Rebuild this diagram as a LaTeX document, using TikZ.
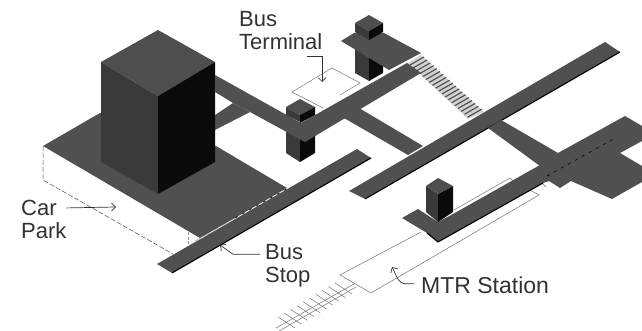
\documentclass[tikz,border=0pt]{standalone}
\usepackage{fontspec}
\setmainfont{Liberation Sans}
\usepackage{tikz}
\usetikzlibrary{arrows.meta, positioning, calc}
\definecolor{atasGedung}{RGB}{78,78,78}
\definecolor{sisiGedung}{RGB}{58,58,58}
\definecolor{lantai}{RGB}{80,80,80}
\definecolor{teksAbu}{RGB}{50,50,50}

\begin{document}
\begin{tikzpicture}[
  x=1pt, y=-1pt,
  lbl/.style={inner sep=0pt, anchor=base west, align=left, text=teksAbu, font=\fontsize{22}{23}\selectfont},
  lantaiA/.style={fill=lantai, draw=none},
  tepi/.style={black, line width=1.1pt},
  garis/.style={draw=black!55, line width=0.5pt},
  putus/.style={draw=black!70, line width=0.5pt, dash pattern=on 5pt off 2pt},
  titik/.style={draw=black, line width=0.6pt, dash pattern=on 3pt off 5pt},
  penunjuk/.style={draw=teksAbu, line width=0.7pt, -{Straight Barb[length=4pt,width=8pt]}},
]
  \useasboundingbox (0,0) rectangle (642,331);

  % batas parkir
  \draw[putus] (43,146) -- (43,180) -- (173,254);
  \draw[draw=black!40, line width=0.8pt, dash pattern=on 3pt off 1.5pt] (188,232) -- (188,245);

  % rel dan stasiun
  \draw[garis] (276,328) -- (354,284);
  \draw[garis] (279,331) -- (356,287);
  \foreach \i in {0,...,9} {
    \draw[garis] ($(278,317)+(6.3*\i,-3.8*\i)$) -- ++(17,11);
  }
  \draw[garis] (421,232) -- (340,275) -- (371,293) -- (539,195) -- (530,190);
  \draw[garis] (454,210) -- (510,178) -- (513,181);
  \draw[garis] (542,183) -- (546,187);

  % terminal bus
  \draw[garis] (323,108) -- (292,92) -- (332,68) -- (360,83) -- (340,95);

  % tangga
  \fill[black!18] (408,63) -- (421,55) -- (484,112) -- (468,119) -- cycle;
  \foreach \i in {0,...,18} {
    \draw[black!70, line width=1.1pt] ($(410,65)+(3.2*\i,2.9*\i)$) -- ++(14,-8);
  }

  % pelat parkir dan jalan
  \fill[lantaiA] (43,146) -- (100,113) -- (216,146) -- (287,188) -- (200,238) -- cycle;
  \fill[lantaiA] (157,264) -- (357,149) -- (371,158) -- (172,273) -- cycle;
  \draw[tepi] (172,273) -- (371,158);
  \draw[titik] (235,218) -- (290,187);
  \draw[draw=black!45, line width=0.4pt, dash pattern=on 6pt off 4pt] (195,241) -- (235,218);

  \fill[lantaiA] (233,103) -- (215,115) -- (215,130) -- (250,112) -- cycle;

  % gedung parkir
  \fill[atasGedung] (158,30) -- (215,62) -- (158,96) -- (101,62) -- cycle;
  \fill[sisiGedung] (101,62) -- (158,96) -- (158,194) -- (101,162) -- cycle;
  \fill[black!96] (158,96) -- (215,62) -- (215,162) -- (158,194) -- cycle;

  % menara kecil tengah (bawah)
  \fill[sisiGedung] (286,130) -- (300,130) -- (300,162) -- (286,153) -- cycle;
  \fill[black!96] (300,130) -- (315,130) -- (315,153) -- (300,162) -- cycle;

  % menara atas (bawah)
  \fill[sisiGedung] (355,45) -- (369,45) -- (369,81) -- (355,73) -- cycle;
  \fill[black!96] (369,45) -- (383,45) -- (383,73) -- (369,81) -- cycle;

  % pelat atas
  \fill[lantaiA] (341,41) -- (354,33) -- (384,33) -- (421,53) -- (389,70) -- cycle;

  % jalan terminal
  \fill[lantaiA] (215,75) -- (301,123) -- (407,63) -- (421,73) -- (305,142) -- (250,112) -- (233,103) -- (215,92) -- cycle;

  % kepala menara
  \fill[atasGedung] (300,99) -- (315,107) -- (300,115) -- (286,107) -- cycle;
  \fill[sisiGedung] (286,107) -- (300,115) -- (300,122) -- (286,115) -- cycle;
  \fill[black!96] (300,115) -- (315,107) -- (315,115) -- (300,123) -- cycle;
  \fill[atasGedung] (369,15) -- (383,23) -- (369,31) -- (355,23) -- cycle;
  \fill[sisiGedung] (355,23) -- (369,31) -- (369,40) -- (355,32) -- cycle;
  \fill[black!96] (369,31) -- (383,23) -- (383,32) -- (369,40) -- cycle;

  % jalan tengah
  \fill[lantaiA] (344,118) -- (359,108) -- (423,146) -- (408,155) -- cycle;
  \fill[lantaiA] (349,191) -- (605,42) -- (620,52) -- (365,199) -- cycle;
  \draw[tepi] (365,199) -- (620,52);
  \fill[lantaiA] (501,120) -- (558,153) -- (540,166) -- (488,128) -- cycle;

  % peron stasiun
  \fill[lantaiA] (402,218) -- (418,209) -- (438,222) -- (453,214) -- (540,165) -- (558,153) -- (625,116)
    -- (642,126) -- (642,141) -- (620,153) -- (642,166) -- (642,182) -- (612,199) -- (571,181)
    -- (560,188) -- (549,181) -- (543,183) -- (438,242) -- (427,233) -- cycle;
  \draw[tepi] (427,233) -- (438,242) -- (543,183);
  \draw[titik] (547,176) -- (617,137);

  \fill[sisiGedung] (426,186) -- (438,194) -- (438,222) -- (426,212) -- cycle;
  \fill[black!96] (438,194) -- (453,186) -- (453,212) -- (438,222) -- cycle;
  \fill[atasGedung] (438,178) -- (453,186) -- (438,194) -- (426,186) -- cycle;

  % label
  \node[lbl] at (239,50) (lblTerminal) {Bus\\Terminal};
  \node[lbl] at (21,238) (lblCar) {Car\\Park};
  \node[lbl] at (265,282) (lblStop) {Bus\\Stop};
  \node[lbl, font=\fontsize{23}{23}\selectfont] at (421,293) (lblMTR) {MTR Station};

  \coordinate (tujuTerminal) at (322,82);
  \coordinate (tujuCar) at (116,207);
  \coordinate (tujuStop) at (220,245);
  \coordinate (tujuMTR) at (392,267);

  \draw[penunjuk] ([xshift=-16pt,yshift=-6pt]lblTerminal.south east) -| (tujuTerminal);
  \draw[penunjuk] ([yshift=11pt]lblCar.east) -- (tujuCar);
  \draw[penunjuk] ([xshift=-5pt,yshift=11pt]lblStop.west) -- ++(-27,0) -- (tujuStop);
  \draw[penunjuk] ([xshift=-7pt,yshift=1pt]lblMTR.west) -- ++(-8,0) to[out=180,in=-60] (tujuMTR);
\end{tikzpicture}
\end{document}
